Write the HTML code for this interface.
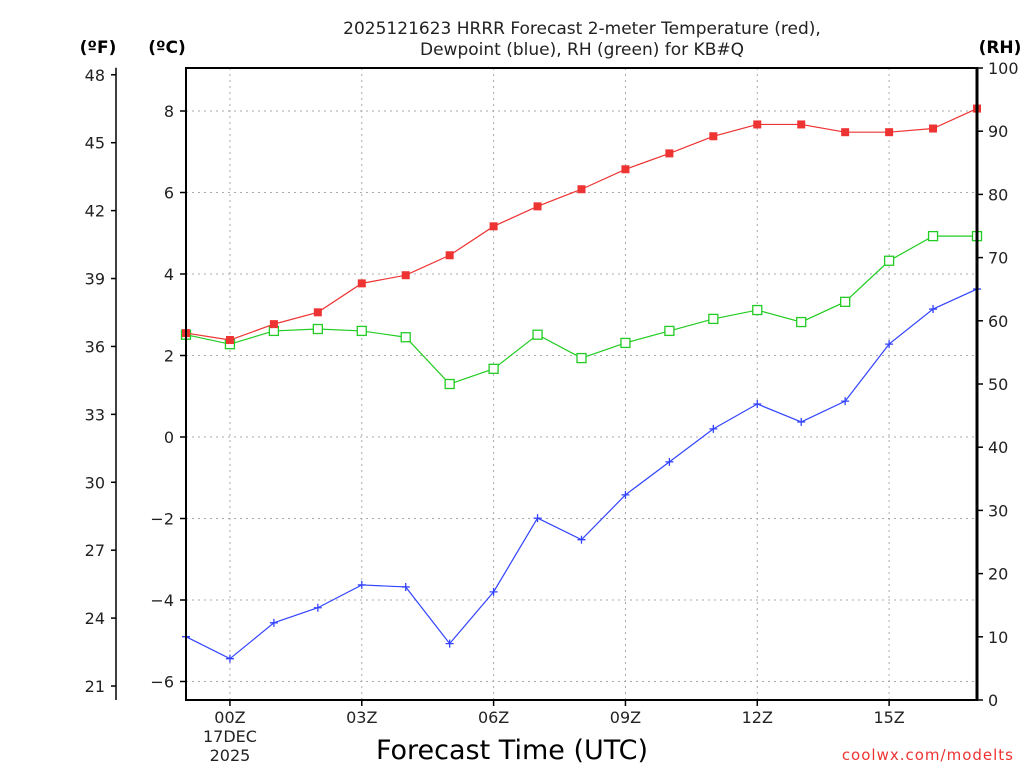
<!DOCTYPE html>
<html><head><meta charset="utf-8"><style>
html,body{margin:0;padding:0;background:#fff;}
svg{display:block;font-family:"DejaVu Sans","Liberation Sans",sans-serif;}
</style></head><body>
<svg id="chart" width="1024" height="768" xmlns="http://www.w3.org/2000/svg"></svg>
<script>
const hours = [-1,0,1,2,3,4,5,6,7,8,9,10,11,12,13,14,15,16,17];
const tempC = [2.55,2.38,2.77,3.06,3.77,3.97,4.46,5.17,5.66,6.08,6.57,6.96,7.38,7.67,7.67,7.48,7.48,7.57,8.06];
const dewC = [-4.9,-5.44,-4.56,-4.19,-3.63,-3.68,-5.07,-3.8,-1.99,-2.52,-1.42,-0.61,0.2,0.81,0.37,0.88,2.28,3.14,3.63];
const rh = [57.8,56.3,58.4,58.7,58.4,57.4,50.0,52.4,57.8,54.1,56.5,58.4,60.3,61.7,59.8,63.0,69.5,73.4,73.4];
const cTicks = [-6,-4,-2,0,2,4,6,8];
const fTicks = [21,24,27,30,33,36,39,42,45,48];
const rhTicks = [0,10,20,30,40,50,60,70,80,90,100];
const xTickHours = [0,3,6,9,12,15];
const xTickLabels = ["00Z","03Z","06Z","09Z","12Z","15Z"];

const L=186,R=977,T=68,B=700;
const xS=h=>L+(h+1)*(R-L)/18;
const cS=c=>437-c*40.75;
const fS=f=>cS((f-32)*5/9);
const rS=v=>B-v*(B-T)/100;
const svg=document.getElementById('chart');
const NS="http://www.w3.org/2000/svg";
function mk(tag,attrs,name,parent){const e=document.createElementNS(NS,tag);for(const k in attrs)e.setAttribute(k,attrs[k]);


(parent||svg).appendChild(e);return e;}
function txt(x,y,s,name,opt){const e=mk('text',Object.assign({x:x,y:y,'font-size':16,fill:'#222'},opt||{}),name);e.textContent=s;return e;}

// grid
xTickHours.forEach(h=>mk('line',{x1:xS(h),x2:xS(h),y1:T,y2:B,stroke:'#aaa','stroke-dasharray':'2,4'},'grid-vertical'));
cTicks.forEach(c=>mk('line',{x1:L,x2:R,y1:cS(c),y2:cS(c),stroke:'#aaa','stroke-dasharray':'2,4'},'grid-horizontal'));

// series
function series(vals,sc,color,name,marker){
  const pts=hours.map((h,i)=>xS(h)+','+sc(vals[i])).join(' ');
  mk('polyline',{points:pts,fill:'none',stroke:color,'stroke-width':1.2},name+'-line');
  hours.forEach((h,i)=>{const x=xS(h),y=sc(vals[i]);
    if(marker==='fill')mk('rect',{x:x-4,y:y-4,width:8,height:8,fill:color},name+'-point');
    else if(marker==='open')mk('rect',{x:x-4.5,y:y-4.5,width:9,height:9,fill:'#fff',stroke:color,'stroke-width':1.3},name+'-point');
    else {mk('path',{d:`M${x-4},${y}H${x+4}M${x},${y-4}V${y+4}`,stroke:color,'stroke-width':1.3},name+'-point');}
  });
}
series(rh,rS,'#22cc22','rh','open');
series(dewC,cS,'#3344ff','dewpoint','plus');
series(tempC,cS,'#ee3333','temperature','fill');

// box
mk('rect',{x:L,y:T,width:R-L,height:B-T,fill:'none',stroke:'#000','stroke-width':2},'plot-frame');
mk('line',{x1:R,x2:R,y1:T,y2:B,stroke:'#000','stroke-width':3},'rh-axis-line');
// C axis
cTicks.forEach(c=>{mk('line',{x1:L-6,x2:L,y1:cS(c),y2:cS(c),stroke:'#000','stroke-width':1.5},'c-tick');
  txt(L-12,cS(c)+6,(c<0?'\u2212'+(-c):String(c)),'c-tick-label',{'text-anchor':'end'});});
// F axis
mk('line',{x1:116,x2:116,y1:fS(48)-7,y2:B,stroke:'#000','stroke-width':1.5},'f-axis-line');
fTicks.forEach(f=>{mk('line',{x1:111,x2:116,y1:fS(f),y2:fS(f),stroke:'#000','stroke-width':1.5},'f-tick');
  txt(105,fS(f)+6,String(f),'f-tick-label',{'text-anchor':'end'});});
// RH axis
rhTicks.forEach(v=>{mk('line',{x1:R,x2:R+6,y1:rS(v),y2:rS(v),stroke:'#000','stroke-width':1.5},'rh-tick');
  txt(988,rS(v)+6,String(v),'rh-tick-label',{'text-anchor':'start'});});
// X axis
xTickHours.forEach((h,i)=>{mk('line',{x1:xS(h),x2:xS(h),y1:B,y2:B+6,stroke:'#000','stroke-width':1.5},'x-tick');
  txt(xS(h),723,xTickLabels[i],'x-tick-label',{'text-anchor':'middle'});});
txt(xS(0),742,'17DEC','x-date-label',{'text-anchor':'middle'});
txt(xS(0),761,'2025','x-year-label',{'text-anchor':'middle'});

txt(98,53,'(ºF)','f-axis-title',{'text-anchor':'middle','font-weight':'bold','font-size':17,fill:'#000'});
txt(167,53,'(ºC)','c-axis-title',{'text-anchor':'middle','font-weight':'bold','font-size':17,fill:'#000'});
txt(1000,53,'(RH)','rh-axis-title',{'text-anchor':'middle','font-weight':'bold','font-size':17,fill:'#000'});
txt(582,34,'2025121623 HRRR Forecast 2-meter Temperature (red),','chart-title',{'text-anchor':'middle','font-size':17});
txt(582,55,'Dewpoint (blue), RH (green) for KB#Q','chart-subtitle',{'text-anchor':'middle','font-size':17});
txt(512,759,'Forecast Time (UTC)','x-axis-title',{'text-anchor':'middle','font-size':27,fill:'#000'});
txt(1014,760,'coolwx.com/modelts','watermark',{'text-anchor':'end','font-size':15,fill:'#ee3333','letter-spacing':'1'});
</script>
</body></html>
